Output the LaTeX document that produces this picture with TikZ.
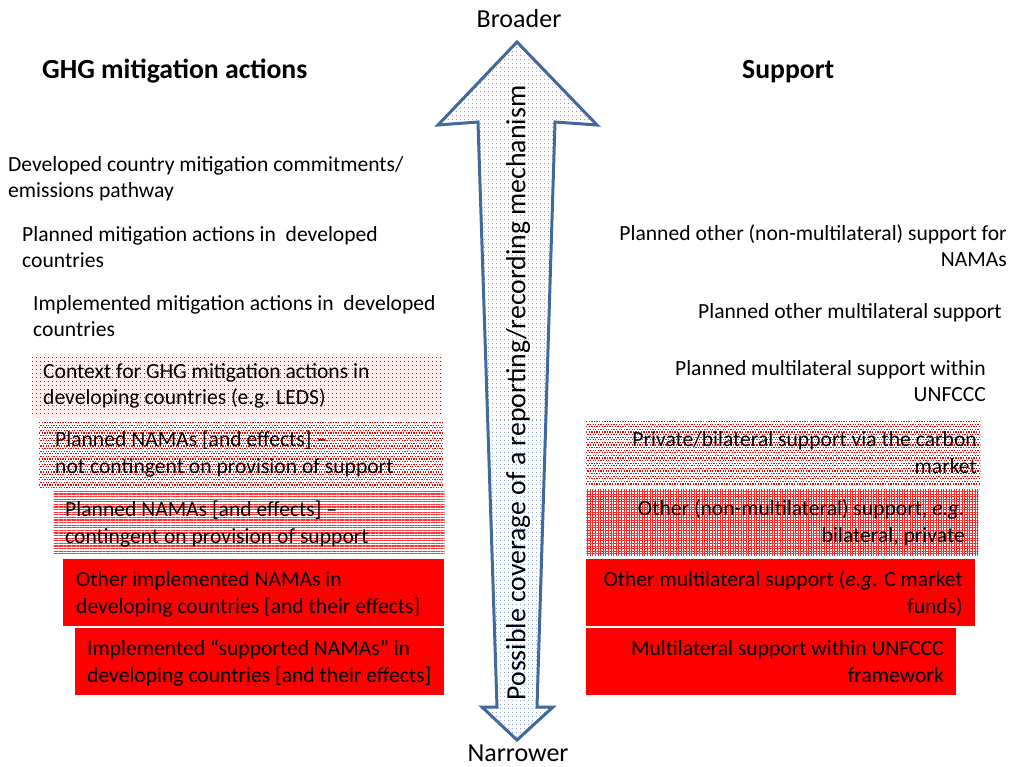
\documentclass[tikz,border=0pt]{standalone}
\usepackage{fontspec}
\setmainfont{Carlito}
\usetikzlibrary{patterns.meta}
\definecolor{arrowblue}{RGB}{65,105,155}
\definecolor{dotblue}{RGB}{140,170,215}
\definecolor{boxred}{RGB}{255,0,0}
% rows of dots: #1 left x, #2 right x, #3 top y, #4 number of rows, #5 row step, #6 dot size, #7 colour
\newcommand\myDotRows[7]{%
  \foreach \i in {0,...,#4}{%
    \pgfmathsetmacro\yy{#3+\i*#5}%
    \pgfmathsetmacro\ph{mod(\i,2)*#6}%
    \draw[draw=#7, line width=#6pt, dash pattern=on #6pt off #6pt, dash phase=\ph pt] (#1,\yy) -- (#2,\yy);
  }}
\begin{document}
\begin{tikzpicture}[x=1pt,y=-1pt,
  lt/.style={inner sep=0pt, align=left, anchor=base west, font=\fontsize{21.6}{26.5}\selectfont},
  rt/.style={inner sep=0pt, align=right, anchor=base east, font=\fontsize{21.6}{26.5}\selectfont},
  head/.style={inner sep=0pt, anchor=base west, font=\fontsize{27.7}{30}\selectfont\bfseries},
  endlbl/.style={inner sep=0pt, anchor=base, font=\fontsize{26}{30}\selectfont},
  boxbase/.style={inner sep=0pt, anchor=north west, draw=none},
  plainbox/.style={boxbase},
  linebox/.style={boxbase, pattern={Lines[angle=0, distance=2.6pt, line width=1.1pt]}, pattern color=boxred!80},
  gridbox/.style={boxbase, pattern={Hatch[angle=0, distance=2.6pt, line width=0.8pt]}, pattern color=boxred!85},
  solidbox/.style={boxbase, fill=boxred},
  sparsedots/.style={draw=boxred, line width=1.4pt, dash pattern=on 1.4pt off 2.6pt},
  bluedots/.style={draw=dotblue, line width=1pt, dash pattern=on 1pt off 3pt},
]
\useasboundingbox (0,0) rectangle (1010,767);

% ---------- boxes (left) ----------
\node[plainbox, fill=boxred!7, minimum width=410pt, minimum height=62pt] (bl4) at (32,356) {};
\foreach \yy in {357.5,361.5,...,417}{\draw[sparsedots] (32,\yy) -- (442,\yy);}
\node[plainbox, minimum width=404pt, minimum height=65pt] (bl5) at (39,422) {};
\begin{scope}
\clip (bl5.north west) rectangle (bl5.south east);
\myDotRows{39}{443}{422.6}{25}{2.6}{1.3}{boxred}
\end{scope}
\node[linebox, minimum width=391pt, minimum height=64pt] (bl6) at (53,490) {};
\node[solidbox, minimum width=381pt, minimum height=67pt] (bl7) at (63,559) {};
\node[solidbox, minimum width=369pt, minimum height=67pt] (bl8) at (75,628) {};

% ---------- boxes (right) ----------
\node[plainbox, minimum width=394pt, minimum height=63pt] (br1) at (586,421) {};
\begin{scope}
\clip (br1.north west) rectangle (br1.south east);
\myDotRows{586}{980}{421.6}{25}{2.6}{1.3}{boxred}
\end{scope}
\node[gridbox, minimum width=392pt, minimum height=66pt] (br2) at (586,489) {};
\node[solidbox, minimum width=389pt, minimum height=67pt] (br3) at (586,559) {};
\node[solidbox, minimum width=370pt, minimum height=67pt] (br4) at (586,628) {};

% ---------- arrow ----------
\coordinate (tipT) at (517,42);
\coordinate (tipB) at (517,740);
\fill[white]
  (tipT) -- (597,125) -- (555,122) -- (537,707) -- (553,707) -- (tipB)
  -- (482,707) -- (497,707) -- (478,122) -- (438,125) -- cycle;
\begin{scope}
\clip (tipT) -- (597,125) -- (555,122) -- (537,707) -- (553,707) -- (tipB)
  -- (482,707) -- (497,707) -- (478,122) -- (438,125) -- cycle;
\foreach \yy in {44,48,...,740}{\draw[bluedots] (436,\yy) -- (600,\yy);}
\end{scope}
\draw[draw=arrowblue, line width=3pt, line join=miter]
  (tipT) -- (597,125) -- (555,122) -- (537,707) -- (553,707) -- (tipB)
  -- (482,707) -- (497,707) -- (478,122) -- (438,125) -- cycle;
\node[inner sep=0pt, rotate=90, font=\fontsize{27.8}{30}\selectfont] (cov) at (518,393)
  {Possible coverage of a reporting/recording mechanism};

\node[endlbl] (broad) at (519,28) {Broader};
\node[endlbl] (narrow) at (518,761) {Narrower};

% ---------- headings ----------
\node[head] (hl) at (42,79) {GHG mitigation actions};
\node[head] (hr) at (742,79) {Support};

% ---------- left texts (anchored at baseline of last line) ----------
\node[lt] (l1) at (8,198) {Developed country mitigation commitments/\\emissions pathway};
\node[lt] (l2) at (22,268) {Planned mitigation actions in\ \ developed\\countries};
\node[lt] (l3) at (33,337) {Implemented mitigation actions in\ \ developed\\countries};
\node[lt] (l4) at (43,405) {Context for GHG mitigation actions in\\developing countries (e.g. LEDS)};
\node[lt] (l5) at (55,473) {Planned NAMAs [and effects] –\\not contingent on provision of support};
\node[lt] (l6) at (65,543) {Planned NAMAs [and effects] –\\contingent on provision of support};
\node[lt] (l7) at (76,613) {Other implemented NAMAs in\\developing countries [and their\ effects]};
\node[lt] (l8) at (87,682) {Implemented “supported NAMAs” in\\developing countries [and their\ effects]};

% ---------- right texts ----------
\node[rt] (r1) at (1007,267) {Planned other (non-multilateral) support for\\NAMAs};
\node[rt] (r2) at (1002,319) {Planned other multilateral support};
\node[rt] (r3) at (986,402) {Planned multilateral support within\\UNFCCC};
\node[rt] (r4) at (977,473) {Private/bilateral support via the carbon\\market};
\node[rt] (r5) at (965,542) {Other (non-multilateral) support, \textit{e.g.}\\bilateral, private};
\node[rt] (r6) at (963,613) {Other multilateral support (\textit{e.g.} C market\\funds)};
\node[rt] (r7) at (944,682) {Multilateral support within UNFCCC\\framework};
\end{tikzpicture}
\end{document}
